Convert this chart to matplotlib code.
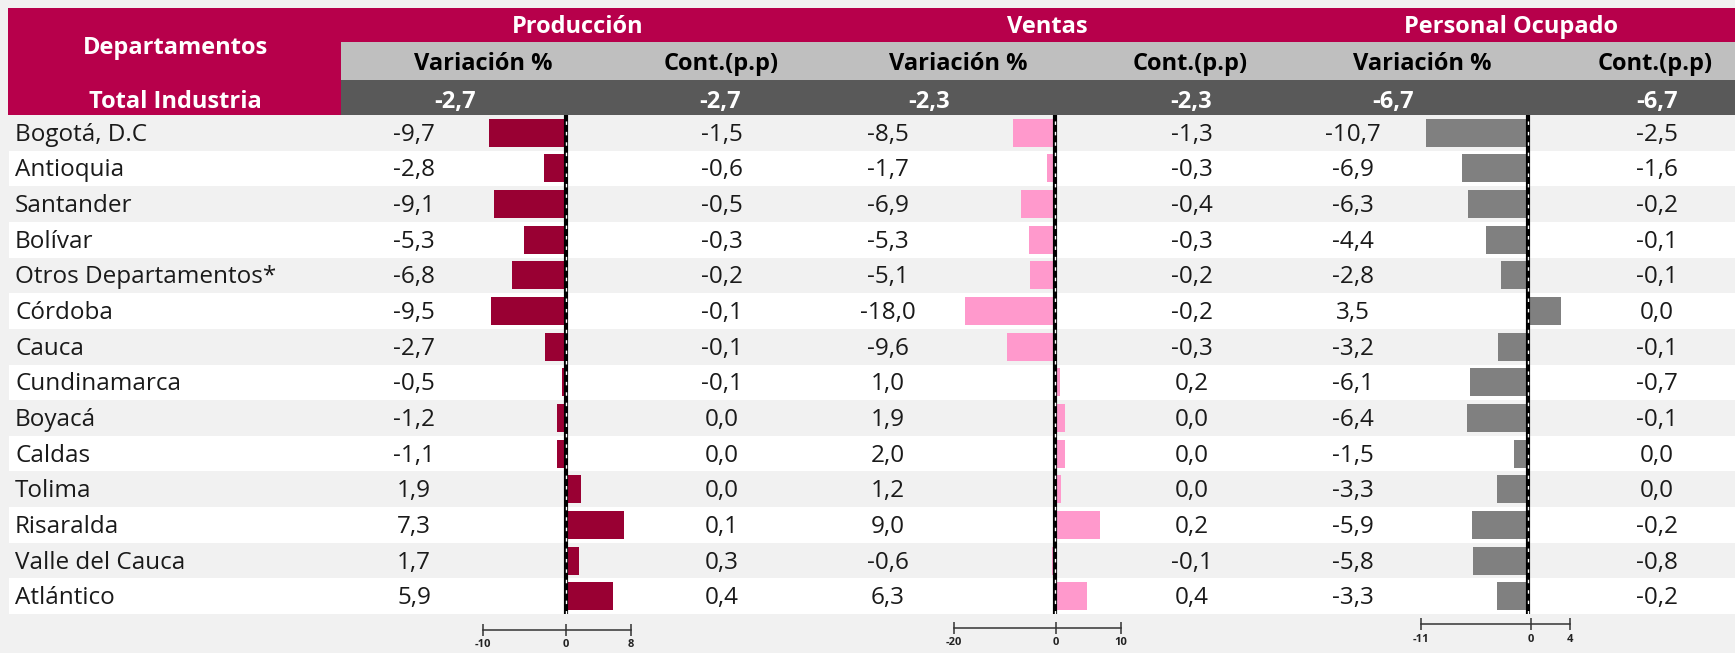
import numpy as np
import matplotlib
matplotlib.use("Agg")
import matplotlib.pyplot as plt
from matplotlib.patches import Rectangle

plt.rcParams['font.family'] = ['Open Sans', 'Noto Sans', 'DejaVu Sans']

# ---------------- data ----------------
departamentos = ["Bogotá, D.C", "Antioquia", "Santander", "Bolívar", "Otros Departamentos*",
                 "Córdoba", "Cauca", "Cundinamarca", "Boyacá", "Caldas", "Tolima",
                 "Risaralda", "Valle del Cauca", "Atlántico"]
prod_var = [-9.7, -2.8, -9.1, -5.3, -6.8, -9.5, -2.7, -0.5, -1.2, -1.1, 1.9, 7.3, 1.7, 5.9]
prod_cont = [-1.5, -0.6, -0.5, -0.3, -0.2, -0.1, -0.1, -0.1, 0.0, 0.0, 0.0, 0.1, 0.3, 0.4]
ventas_var = [-8.5, -1.7, -6.9, -5.3, -5.1, -18.0, -9.6, 1.0, 1.9, 2.0, 1.2, 9.0, -0.6, 6.3]
ventas_cont = [-1.3, -0.3, -0.4, -0.3, -0.2, -0.2, -0.3, 0.2, 0.0, 0.0, 0.0, 0.2, -0.1, 0.4]
pers_var = [-10.7, -6.9, -6.3, -4.4, -2.8, 3.5, -3.2, -6.1, -6.4, -1.5, -3.3, -5.9, -5.8, -3.3]
pers_cont = [-2.5, -1.6, -0.2, -0.1, -0.1, 0.0, -0.1, -0.7, -0.1, 0.0, 0.0, -0.2, -0.8, -0.2]
total_var = [-2.7, -2.3, -6.7]
total_cont = [-2.7, -2.3, -6.7]
grupos = ["Producción", "Ventas", "Personal Ocupado"]
sub_var = "Variación %"
sub_cont = "Cont.(p.p)"
axis_ticks = [[-10, 0, 8], [-20, 0, 10], [-11, 0, 4]]

# ---------------- style / layout ----------------
W, H = 1735, 653
CRIMSON = '#b7004b'
BAR_COLORS = ['#990033', '#ff99cc', '#808080']
BG = '#f1f1f1'
TXT = '#1a1a1a'
FS = 17.5
FSB = 17.0

fig = plt.figure(figsize=(W / 100, H / 100), dpi=100, facecolor=BG)
ax = fig.add_axes([0, 0, 1, 1])
ax.set_xlim(0, W)
ax.set_ylim(H, 0)
ax.axis('off')

# header blocks
ax.add_patch(Rectangle((8, 8), W - 8, 34, color=CRIMSON, lw=0))
ax.add_patch(Rectangle((8, 8), 333, 107, color=CRIMSON, lw=0))
ax.add_patch(Rectangle((341, 42), W - 341, 38, color='#bfbfbf', lw=0))
ax.add_patch(Rectangle((341, 80), W - 341, 35, color='#595959', lw=0))

ax.text(175, 48, "Departamentos", color='white', fontsize=FSB, fontweight='bold', ha='center', va='center')
ax.text(175, 102, "Total Industria", color='white', fontsize=FSB, fontweight='bold', ha='center', va='center')

grp_x = [578, 1047, 1511]
var_hdr_x = [483, 958, 1422]
cont_hdr_x = [721, 1190, 1655]
tot_var_x = [455, 929, 1393]
tot_cont_x = [720, 1191, 1657]
val_var_x = [414, 888, 1353]
val_cont_x = [722, 1192, 1657]


def fmt(v):
    return f"{v:.1f}".replace('.', ',')


for k in range(3):
    ax.text(grp_x[k], 27, grupos[k], color='white', fontsize=FSB, fontweight='bold', ha='center', va='center')
    ax.text(var_hdr_x[k], 64, sub_var, color='black', fontsize=FSB, fontweight='bold', ha='center', va='center')
    ax.text(cont_hdr_x[k], 64, sub_cont, color='black', fontsize=FSB, fontweight='bold', ha='center', va='center')
    ax.text(tot_var_x[k], 102, fmt(total_var[k]), color='white', fontsize=FSB, fontweight='bold', ha='center', va='center')
    ax.text(tot_cont_x[k], 102, fmt(total_cont[k]), color='white', fontsize=FSB, fontweight='bold', ha='center', va='center')

# rows
top, bottom = 115, 614
n = len(departamentos)
rowh = (bottom - top) / n
for i in range(n):
    if i % 2 == 1:
        ax.add_patch(Rectangle((9, top + i * rowh), W - 9, rowh, color='white', lw=0))

var_series = [prod_var, ventas_var, pers_var]
cont_series = [prod_cont, ventas_cont, pers_cont]
for i, name in enumerate(departamentos):
    yc = top + (i + 0.5) * rowh + 2
    ax.text(15, yc, name, color=TXT, fontsize=FS, ha='left', va='center')
    for k in range(3):
        ax.text(val_var_x[k], yc, fmt(var_series[k][i]), color=TXT, fontsize=FS, ha='center', va='center')
        ax.text(val_cont_x[k], yc, fmt(cont_series[k][i]), color=TXT, fontsize=FS, ha='center', va='center')

# bar columns
zero_px = [566, 1055, 1528]
px_per_unit = [7.9, 5.0, 9.5]
for k in range(3):
    lo, hi = axis_ticks[k][0], axis_ticks[k][-1]
    x0 = zero_px[k] + lo * px_per_unit[k]
    wpx = (hi - lo) * px_per_unit[k]
    bax = fig.add_axes([x0 / W, 1 - bottom / H, wpx / W, (bottom - top) / H])
    bax.set_facecolor('none')
    bax.set_xlim(lo, hi)
    bax.set_ylim(n - 0.5, -0.5)
    bax.barh(np.arange(n), var_series[k], height=28 / rowh, color=BAR_COLORS[k], zorder=2)
    bax.axvline(0, color='black', lw=3.0, zorder=3)
    bax.axvline(0, color='white', lw=1.0, dashes=(2.5, 5), zorder=4)
    bax.axis('off')

# small axes below
tick_px = [[483, 566, 631], [954, 1056, 1121], [1421, 1531, 1570]]
line_y = [630, 628, 624]
pads = [2.5, 2.5, 3.0]


def piecewise(lo, hi, f0):
    def fwd(x):
        x = np.asarray(x, dtype=float)
        return np.where(x < 0, f0 * (x - lo) / (-lo), f0 + (1 - f0) * x / hi)

    def inv(y):
        y = np.asarray(y, dtype=float)
        return np.where(y < f0, lo + y / f0 * (-lo), (y - f0) / (1 - f0) * hi)
    return fwd, inv


for k in range(3):
    lo, hi = axis_ticks[k][0], axis_ticks[k][-1]
    xa, xz, xb = tick_px[k]
    f0 = (xz - xa) / (xb - xa)
    max_ = fig.add_axes([xa / W, 1 - line_y[k] / H, (xb - xa) / W, 0.002])
    max_.set_facecolor('none')
    max_.set_xscale('function', functions=piecewise(lo, hi, f0))
    max_.set_xlim(lo, hi)
    for s in ['top', 'left', 'right']:
        max_.spines[s].set_visible(False)
    max_.spines['bottom'].set_color('#333333')
    max_.spines['bottom'].set_linewidth(1.1)
    max_.set_yticks([])
    max_.set_xticks(axis_ticks[k])
    max_.set_xticklabels([str(t) for t in axis_ticks[k]])
    max_.tick_params(axis='x', direction='inout', length=8, width=1.1, color='#333333',
                     labelsize=8.0, pad=pads[k], labelcolor='#222222')
    for lab in max_.get_xticklabels():
        lab.set_fontweight('bold')

fig.savefig('out.png', dpi=100, facecolor=BG)
